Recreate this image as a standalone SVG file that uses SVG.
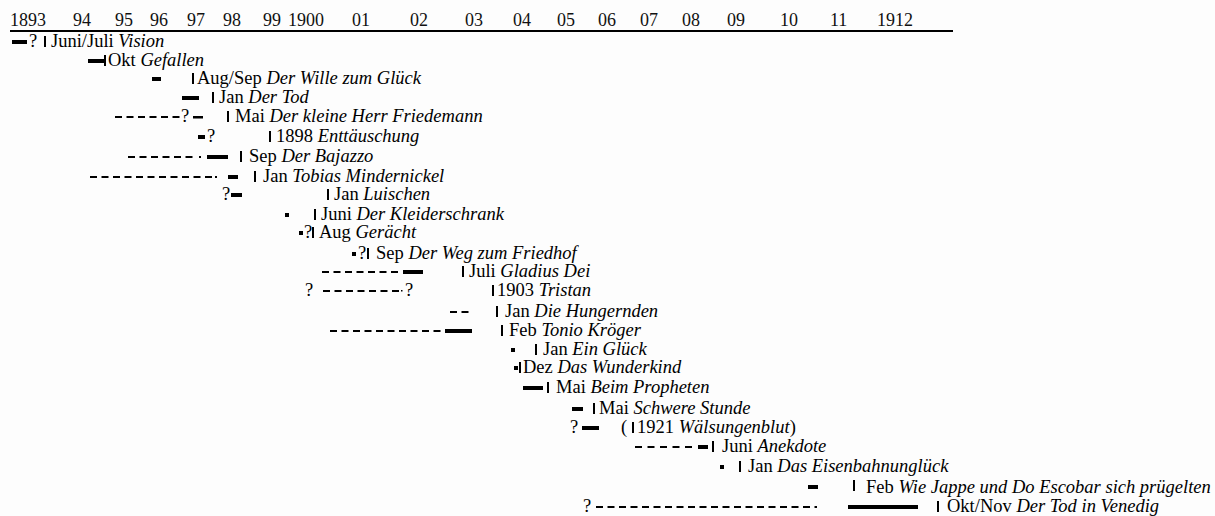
<svg xmlns="http://www.w3.org/2000/svg" width="1215" height="516" viewBox="0 0 1215 516">
<style>
.t{font-family:"Liberation Serif","Times New Roman",serif;font-size:18.5px;fill:#000}
.h{font-family:"Liberation Serif","Times New Roman",serif;font-size:18px;fill:#111}
.i{font-style:italic}
.b{fill:#000}
.d{stroke:#000;stroke-width:2;stroke-dasharray:7 4.5;fill:none}
</style>
<rect width="1215" height="516" fill="#fdfdfd"/>
<g id="axis">
<line x1="10" y1="31" x2="953" y2="31" stroke="#000" stroke-width="2"/>
<text class="h" y="26"><tspan x="10">1893</tspan><tspan x="73">94</tspan><tspan x="115">95</tspan><tspan x="150">96</tspan><tspan x="187">97</tspan><tspan x="223">98</tspan><tspan x="263">99</tspan><tspan x="288">1900</tspan><tspan x="352">01</tspan><tspan x="410">02</tspan><tspan x="465">03</tspan><tspan x="513">04</tspan><tspan x="557">05</tspan><tspan x="598">06</tspan><tspan x="640">07</tspan><tspan x="682">08</tspan><tspan x="727">09</tspan><tspan x="780">10</tspan><tspan x="830">11</tspan><tspan x="877">1912</tspan></text>
</g>
<g id="connectors"></g>
<g id="r01"><rect class="b" x="12" y="40" width="15" height="4"/><text class="t" x="29" y="47">?</text><rect class="b" x="44" y="36" width="2" height="11"/><text class="t" x="51" y="47">Juni/Juli <tspan class="i">Vision</tspan></text></g>
<g id="r02"><rect class="b" x="88" y="59" width="16" height="4"/><rect class="b" x="104" y="55" width="2" height="11"/><text class="t" x="108" y="66">Okt <tspan class="i">Gefallen</tspan></text></g>
<g id="r03"><rect class="b" x="152" y="77" width="9" height="4"/><rect class="b" x="192" y="73" width="2" height="11"/><text class="t" x="197" y="84">Aug/Sep <tspan class="i">Der Wille zum Glück</tspan></text></g>
<g id="r04"><rect class="b" x="182" y="96" width="17" height="4"/><rect class="b" x="212" y="92" width="2" height="11"/><text class="t" x="219" y="103">Jan <tspan class="i">Der Tod</tspan></text></g>
<g id="r05"><line class="d" x1="115" y1="117" x2="181" y2="117"/><text class="t" x="181" y="122">?</text><rect class="b" x="193" y="116" width="10" height="2.5"/><rect class="b" x="227" y="111" width="2" height="11"/><text class="t" x="235" y="122">Mai <tspan class="i">Der kleine Herr Friedemann</tspan></text></g>
<g id="r06"><rect class="b" x="198" y="135" width="7" height="4"/><text class="t" x="207" y="142">?</text><rect class="b" x="269" y="131" width="2" height="11"/><text class="t" x="276" y="142">1898 <tspan class="i">Enttäuschung</tspan></text></g>
<g id="r07"><line class="d" x1="128" y1="157" x2="196" y2="157"/><rect class="b" x="199" y="156" width="2" height="2"/><rect class="b" x="207" y="155" width="21" height="4"/><rect class="b" x="240" y="151" width="2" height="11"/><text class="t" x="249" y="162">Sep <tspan class="i">Der Bajazzo</tspan></text></g>
<g id="r08"><line class="d" x1="90" y1="177" x2="212" y2="177"/><rect class="b" x="215" y="176" width="2" height="2"/><rect class="b" x="228" y="175" width="10" height="4"/><rect class="b" x="254" y="171" width="2" height="11"/><text class="t" x="263" y="182">Jan <tspan class="i">Tobias Mindernickel</tspan></text></g>
<g id="r09"><text class="t" x="222" y="200">?</text><rect class="b" x="231" y="193" width="11" height="4"/><rect class="b" x="327" y="189" width="2" height="11"/><text class="t" x="334" y="200">Jan <tspan class="i">Luischen</tspan></text></g>
<g id="r10"><rect class="b" x="285" y="213" width="4" height="4"/><rect class="b" x="314" y="209" width="2" height="11"/><text class="t" x="321" y="220">Juni <tspan class="i">Der Kleiderschrank</tspan></text></g>
<g id="r11"><rect class="b" x="299" y="231" width="4" height="4"/><text class="t" x="304" y="238">?</text><rect class="b" x="312" y="227" width="2" height="11"/><text class="t" x="319" y="238">Aug <tspan class="i">Gerächt</tspan></text></g>
<g id="r12"><rect class="b" x="352" y="252" width="4" height="4"/><text class="t" x="358" y="259">?</text><rect class="b" x="367" y="248" width="2" height="11"/><text class="t" x="376" y="259">Sep <tspan class="i">Der Weg zum Friedhof</tspan></text></g>
<g id="r13"><line class="d" x1="322" y1="272" x2="398" y2="272"/><rect class="b" x="403" y="270" width="20" height="4"/><rect class="b" x="462" y="266" width="2" height="11"/><text class="t" x="469" y="277">Juli <tspan class="i">Gladius Dei</tspan></text></g>
<g id="r14"><text class="t" x="305" y="296">?</text><line class="d" x1="323" y1="291" x2="399" y2="291"/><rect class="b" x="401" y="290" width="1.5" height="1.5"/><text class="t" x="405" y="296">?</text><rect class="b" x="492" y="285" width="2" height="11"/><text class="t" x="497" y="296">1903 <tspan class="i">Tristan</tspan></text></g>
<g id="r15"><line class="d" x1="450" y1="312" x2="469" y2="312"/><rect class="b" x="496" y="306" width="2" height="11"/><text class="t" x="505" y="317">Jan <tspan class="i">Die Hungernden</tspan></text></g>
<g id="r16"><line class="d" x1="330" y1="331" x2="441" y2="331"/><rect class="b" x="445" y="329" width="27" height="4"/><rect class="b" x="501" y="325" width="2" height="11"/><text class="t" x="509" y="336">Feb <tspan class="i">Tonio Kröger</tspan></text></g>
<g id="r17"><rect class="b" x="511" y="348" width="4" height="4"/><rect class="b" x="535" y="344" width="2" height="11"/><text class="t" x="543" y="355">Jan <tspan class="i">Ein Glück</tspan></text></g>
<g id="r18"><rect class="b" x="514" y="366" width="4" height="4"/><rect class="b" x="519" y="362" width="2" height="11"/><text class="t" x="523" y="373">Dez <tspan class="i">Das Wunderkind</tspan></text></g>
<g id="r19"><rect class="b" x="523" y="386" width="20" height="4"/><rect class="b" x="547" y="382" width="2" height="11"/><text class="t" x="556" y="393">Mai <tspan class="i">Beim Propheten</tspan></text></g>
<g id="r20"><rect class="b" x="572" y="407" width="11" height="4"/><rect class="b" x="593" y="403" width="2" height="11"/><text class="t" x="599" y="414">Mai <tspan class="i">Schwere Stunde</tspan></text></g>
<g id="r21"><text class="t" x="570" y="433">?</text><rect class="b" x="582" y="426" width="17" height="4"/><text class="t" x="621" y="433">(</text><rect class="b" x="632" y="422" width="2" height="11"/><text class="t" x="637" y="433">1921 <tspan class="i">Wälsungenblut</tspan>)</text></g>
<g id="r22"><line class="d" x1="635" y1="447" x2="694" y2="447" style="stroke-dasharray:7 5.5"/><rect class="b" x="698" y="445" width="10" height="4"/><rect class="b" x="712" y="441" width="2" height="11"/><text class="t" x="722" y="452">Juni <tspan class="i">Anekdote</tspan></text></g>
<g id="r23"><rect class="b" x="720" y="465" width="4" height="4"/><rect class="b" x="739" y="461" width="2" height="11"/><text class="t" x="748" y="472">Jan <tspan class="i">Das Eisenbahnunglück</tspan></text></g>
<g id="r24"><rect class="b" x="808" y="485" width="10" height="4"/><rect class="b" x="853" y="480" width="2" height="11"/><text class="t" x="866" y="493">Feb <tspan class="i">Wie Jappe und Do Escobar sich prügelten</tspan></text></g>
<g id="r25"><text class="t" x="583" y="512">?</text><line class="d" x1="596" y1="507" x2="817" y2="507"/><rect class="b" x="848" y="505" width="70" height="4"/><rect class="b" x="937" y="501" width="2" height="11"/><text class="t" x="947" y="512">Okt/Nov <tspan class="i">Der Tod in Venedig</tspan></text></g>
</svg>
